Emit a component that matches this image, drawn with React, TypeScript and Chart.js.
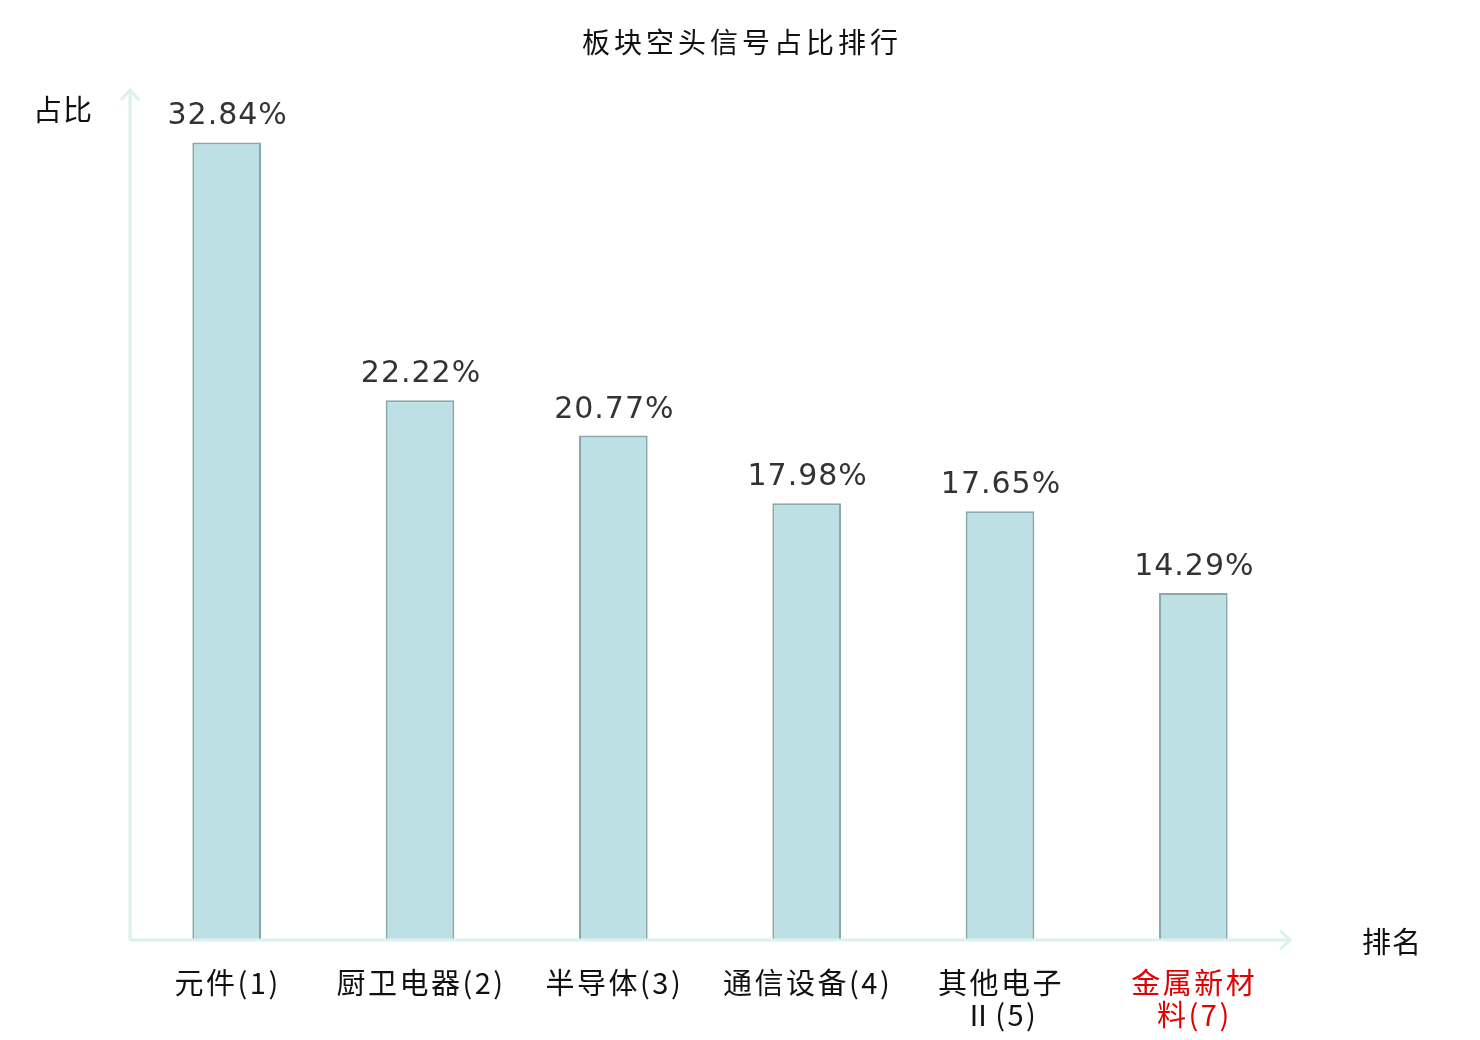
import { Chart, registerables } from "chart.js"
import { useEffect, useRef } from "react"

Chart.register(...registerables)

const categories = [
	["元件(1)"],
	["厨卫电器(2)"],
	["半导体(3)"],
	["通信设备(4)"],
	["其他电子", "Ⅱ(5)"],
	["金属新材", "料(7)"],
]
const values = [32.84, 22.22, 20.77, 17.98, 17.65, 14.29]
const highlighted = [false, false, false, false, false, true]
const chartTitle = "板块空头信号占比排行"
const yAxisName = "占比"
const xAxisName = "排名"

const CJK = '"Noto Sans CJK SC", "DejaVu Sans", sans-serif'
const NUM = '"DejaVu Sans", "Noto Sans CJK SC", sans-serif'

const decorations = {
	id: "decorations",
	afterDraw(chart: Chart) {
		const ctx = chart.ctx
		const { left, right, top, bottom } = chart.chartArea
		const x = chart.scales.x
		ctx.save()

		// axes with arrow heads
		ctx.strokeStyle = "#dcf1ed"
		ctx.lineWidth = 3
		ctx.beginPath()
		ctx.moveTo(left, bottom)
		ctx.lineTo(left, top)
		ctx.moveTo(left - 9, top + 10)
		ctx.lineTo(left, top)
		ctx.lineTo(left + 9, top + 10)
		ctx.moveTo(left, bottom)
		ctx.lineTo(right, bottom)
		ctx.moveTo(right - 10, bottom - 9)
		ctx.lineTo(right, bottom)
		ctx.lineTo(right - 10, bottom + 9)
		ctx.stroke()

		// title
		ctx.fillStyle = "#111"
		ctx.textAlign = "center"
		ctx.textBaseline = "middle"
		ctx.font = `28px ${CJK}`
		;(ctx as any).letterSpacing = "4px"
		ctx.fillText(chartTitle, chart.width / 2 + 2, 42)

		// axis names
		;(ctx as any).letterSpacing = "1px"
		ctx.font = `29px ${CJK}`
		ctx.fillText(yAxisName, 63, 110)
		ctx.fillText(xAxisName, 1392, 942)

		// category labels
		ctx.font = `29px ${CJK}`
		;(ctx as any).letterSpacing = "2.5px"
		categories.forEach((lines, i) => {
			const cx = x.getPixelForValue(i)
			ctx.fillStyle = highlighted[i] ? "#e00000" : "#111"
			lines.forEach((line, j) => {
				ctx.fillText(line, cx + 1, bottom + 43 + j * 32)
			})
		})

		// value labels
		const meta = chart.getDatasetMeta(0)
		ctx.font = `30px ${NUM}`
		;(ctx as any).letterSpacing = "1px"
		ctx.fillStyle = "#333"
		ctx.textBaseline = "alphabetic"
		meta.data.forEach((bar: any, i: number) => {
			ctx.fillText(values[i].toFixed(2) + "%", bar.x + 1, bar.y - 18)
		})
		ctx.restore()
	},
}

export default function App() {
	const chartRef = useRef<HTMLCanvasElement>(null)
	const chartInstance = useRef<Chart | null>(null)

	useEffect(() => {
		document.body.style.margin = "0"
		if (chartRef.current) {
			if (chartInstance.current) {
				chartInstance.current.destroy()
			}
			chartInstance.current = new Chart(chartRef.current, {
				type: "bar",
				data: {
					labels: categories.map((c) => c.join("")),
					datasets: [
						{
							data: values,
							backgroundColor: "#bce0e3",
							borderColor: "#8aa7a9",
							borderWidth: 2,
							categoryPercentage: 1,
							barPercentage: 0.355,
						},
					],
				},
				options: {
					responsive: false,
					animation: false,
					layout: {
						padding: { left: 122, right: 190, top: 90, bottom: 92 },
					},
					plugins: {
						legend: { display: false },
						title: { display: false },
						tooltip: { enabled: false },
					},
					scales: {
						x: {
							grid: { display: false },
							border: { display: false },
							ticks: { display: false },
						},
						y: {
							min: 0,
							max: 35,
							grid: { display: false },
							border: { display: false },
							ticks: { display: false },
						},
					},
				},
				plugins: [decorations],
			})
		}

		return () => {
			if (chartInstance.current) {
				chartInstance.current.destroy()
				chartInstance.current = null
			}
		}
	}, [])

	return (
		<div style={{ width: 1480, height: 1040, background: "#fff" }}>
			<canvas ref={chartRef} width={1480} height={1040} style={{ width: 1480, height: 1040 }}></canvas>
		</div>
	)
}
